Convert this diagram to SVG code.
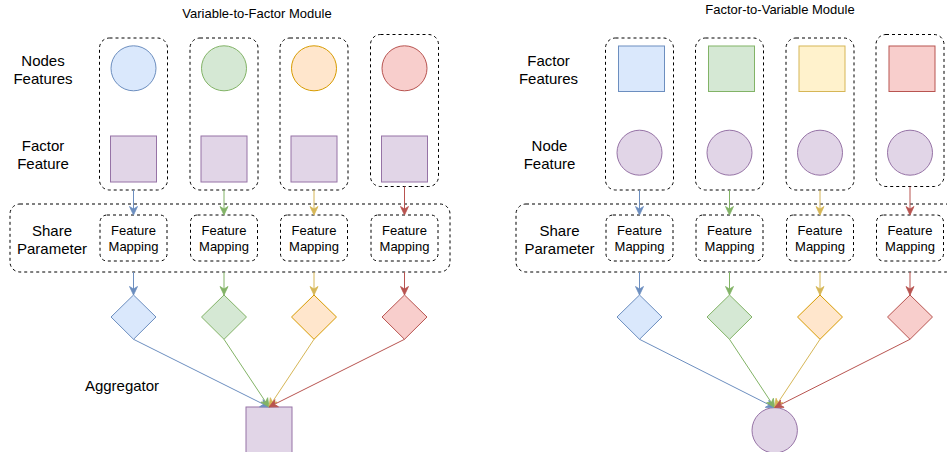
<svg xmlns="http://www.w3.org/2000/svg" width="947" height="452" viewBox="0 0 947 452">
<style>
text{font-family:"Liberation Sans",Arial,Helvetica,sans-serif;fill:#000;text-anchor:middle}
.t13{font-size:13px}
.t15{font-size:15px}
.grp{fill:none;stroke:#000;stroke-width:1;stroke-dasharray:3 3}
.fm{fill:#fff;stroke:#000;stroke-width:1;stroke-dasharray:3 3}
.blue{fill:#dae8fc;stroke:#6c8ebf}
.green{fill:#d5e8d4;stroke:#82b366}
.orange{fill:#ffe6cc;stroke:#d79b00}
.yellow{fill:#fff2cc;stroke:#d6b656}
.red{fill:#f8cecc;stroke:#b85450}
.purple{fill:#e1d5e7;stroke:#9673a6}
.e{fill:none;stroke-width:1}
.eb{stroke:#6c8ebf}.eg{stroke:#82b366}.ey{stroke:#d6b656}.er{stroke:#b85450}
</style>
<defs>
<marker id="ab" viewBox="0 0 10 10" refX="9.5" refY="5" markerWidth="10" markerHeight="10" markerUnits="userSpaceOnUse" orient="auto"><path d="M1,1 L9.5,5 L1,9 L3.5,5 Z" fill="#6c8ebf" stroke="#6c8ebf" stroke-width="0.8"/></marker>
<marker id="ag" viewBox="0 0 10 10" refX="9.5" refY="5" markerWidth="10" markerHeight="10" markerUnits="userSpaceOnUse" orient="auto"><path d="M1,1 L9.5,5 L1,9 L3.5,5 Z" fill="#82b366" stroke="#82b366" stroke-width="0.8"/></marker>
<marker id="ay" viewBox="0 0 10 10" refX="9.5" refY="5" markerWidth="10" markerHeight="10" markerUnits="userSpaceOnUse" orient="auto"><path d="M1,1 L9.5,5 L1,9 L3.5,5 Z" fill="#d6b656" stroke="#d6b656" stroke-width="0.8"/></marker>
<marker id="ar" viewBox="0 0 10 10" refX="9.5" refY="5" markerWidth="10" markerHeight="10" markerUnits="userSpaceOnUse" orient="auto"><path d="M1,1 L9.5,5 L1,9 L3.5,5 Z" fill="#b85450" stroke="#b85450" stroke-width="0.8"/></marker>
</defs>

<!-- ===== Left module: Variable-to-Factor ===== -->
<g id="title-left"><text class="t13" x="257" y="17.5">Variable-to-Factor Module</text></g>
<g id="label-nodes-features"><text class="t15" x="43" y="66">Nodes</text><text class="t15" x="43" y="84">Features</text></g>
<g id="label-factor-feature-left"><text class="t15" x="43" y="151">Factor</text><text class="t15" x="43" y="168.5">Feature</text></g>
<g id="label-aggregator"><text class="t15" x="122" y="391">Aggregator</text></g>

<g id="share-left">
<rect class="grp" x="10" y="204" width="440" height="68" rx="10"/>
<text class="t15" x="52" y="235.5">Share</text><text class="t15" x="52" y="253.5">Parameter</text>
</g>

<g id="L-col1">
<rect class="grp" x="99.5" y="38" width="68" height="152" rx="10"/>
<circle class="blue" cx="133.5" cy="68.3" r="22.5"/>
<rect class="purple" x="110.5" y="136" width="46" height="46"/>
</g>
<g id="L-col2">
<rect class="grp" x="190" y="38" width="68" height="152" rx="10"/>
<circle class="green" cx="224" cy="68.3" r="22.5"/>
<rect class="purple" x="201" y="136" width="46" height="46"/>
</g>
<g id="L-col3">
<rect class="grp" x="280" y="38" width="68" height="152" rx="10"/>
<circle class="orange" cx="314" cy="68.3" r="22.5"/>
<rect class="purple" x="291" y="136" width="46" height="46"/>
</g>
<g id="L-col4">
<rect class="grp" x="370.5" y="34.5" width="68" height="152" rx="10"/>
<circle class="red" cx="404.5" cy="68.3" r="22.5"/>
<rect class="purple" x="381.5" y="136" width="46" height="46"/>
</g>

<g id="L-fm1"><rect class="fm" x="100" y="215" width="67" height="46" rx="7"/><text class="t13" x="133.5" y="234.7">Feature</text><text class="t13" x="133.5" y="250.7">Mapping</text></g>
<g id="L-fm2"><rect class="fm" x="190.5" y="215" width="67" height="46" rx="7"/><text class="t13" x="224" y="234.7">Feature</text><text class="t13" x="224" y="250.7">Mapping</text></g>
<g id="L-fm3"><rect class="fm" x="280.5" y="215" width="67" height="46" rx="7"/><text class="t13" x="314" y="234.7">Feature</text><text class="t13" x="314" y="250.7">Mapping</text></g>
<g id="L-fm4"><rect class="fm" x="371" y="215" width="67" height="46" rx="7"/><text class="t13" x="404.5" y="234.7">Feature</text><text class="t13" x="404.5" y="250.7">Mapping</text></g>

<g id="L-d1"><polygon class="blue" points="133.5,295 156,317 133.5,339.3 111,317"/></g>
<g id="L-d2"><polygon class="green" points="224,295 246.5,317 224,339.3 201.5,317"/></g>
<g id="L-d3"><polygon class="orange" points="314,295 336.5,317 314,339.3 291.5,317"/></g>
<g id="L-d4"><polygon class="red" points="404.5,295 427,317 404.5,339.3 382,317"/></g>

<g id="L-agg"><rect class="purple" x="246" y="407" width="46" height="46"/></g>

<!-- ===== Right module: Factor-to-Variable ===== -->
<g id="title-right"><text class="t13" x="780" y="14">Factor-to-Variable Module</text></g>
<g id="label-factor-features"><text class="t15" x="548.5" y="66">Factor</text><text class="t15" x="548.5" y="84">Features</text></g>
<g id="label-node-feature"><text class="t15" x="549.5" y="151">Node</text><text class="t15" x="549.5" y="168.5">Feature</text></g>

<g id="share-right">
<rect class="grp" x="516" y="204" width="440" height="68" rx="10"/>
<text class="t15" x="559.5" y="235.5">Share</text><text class="t15" x="559.5" y="253.5">Parameter</text>
</g>

<g id="R-col1">
<rect class="grp" x="605.5" y="38" width="68" height="152" rx="10"/>
<rect class="blue" x="618.5" y="46" width="46" height="45.5"/>
<circle class="purple" cx="639.5" cy="152.7" r="22.5"/>
</g>
<g id="R-col2">
<rect class="grp" x="695.5" y="38" width="68" height="152" rx="10"/>
<rect class="green" x="708.5" y="46" width="46" height="45.5"/>
<circle class="purple" cx="729.5" cy="152.7" r="22.5"/>
</g>
<g id="R-col3">
<rect class="grp" x="786" y="38" width="68" height="152" rx="10"/>
<rect class="yellow" x="799" y="46" width="46" height="45.5"/>
<circle class="purple" cx="820" cy="152.7" r="22.5"/>
</g>
<g id="R-col4">
<rect class="grp" x="876" y="34.5" width="68" height="152" rx="10"/>
<rect class="red" x="889" y="46" width="46" height="45.5"/>
<circle class="purple" cx="910" cy="152.7" r="22.5"/>
</g>

<g id="R-fm1"><rect class="fm" x="606" y="215" width="67" height="46" rx="7"/><text class="t13" x="639.5" y="234.7">Feature</text><text class="t13" x="639.5" y="250.7">Mapping</text></g>
<g id="R-fm2"><rect class="fm" x="696" y="215" width="67" height="46" rx="7"/><text class="t13" x="729.5" y="234.7">Feature</text><text class="t13" x="729.5" y="250.7">Mapping</text></g>
<g id="R-fm3"><rect class="fm" x="786.5" y="215" width="67" height="46" rx="7"/><text class="t13" x="820" y="234.7">Feature</text><text class="t13" x="820" y="250.7">Mapping</text></g>
<g id="R-fm4"><rect class="fm" x="876.5" y="215" width="67" height="46" rx="7"/><text class="t13" x="910" y="234.7">Feature</text><text class="t13" x="910" y="250.7">Mapping</text></g>

<g id="R-d1"><polygon class="blue" points="639.5,295 662,317 639.5,339.3 617,317"/></g>
<g id="R-d2"><polygon class="green" points="729.5,295 752,317 729.5,339.3 707,317"/></g>
<g id="R-d3"><polygon class="orange" points="820,295 842.5,317 820,339.3 797.5,317"/></g>
<g id="R-d4"><polygon class="red" points="910,295 932.5,317 910,339.3 887.5,317"/></g>

<g id="R-agg"><circle class="purple" cx="774.7" cy="430.3" r="22.7"/></g>

<!-- ===== Connectors ===== -->
<g id="connectors">
<line class="e eb" x1="133.5" y1="190" x2="133.5" y2="215" marker-end="url(#ab)"/>
<line class="e eg" x1="224" y1="190" x2="224" y2="215" marker-end="url(#ag)"/>
<line class="e ey" x1="314" y1="190" x2="314" y2="215" marker-end="url(#ay)"/>
<line class="e er" x1="404.5" y1="186.5" x2="404.5" y2="215" marker-end="url(#ar)"/>
<line class="e eb" x1="133.5" y1="272" x2="133.5" y2="295" marker-end="url(#ab)"/>
<line class="e eg" x1="224" y1="272" x2="224" y2="295" marker-end="url(#ag)"/>
<line class="e ey" x1="314" y1="272" x2="314" y2="295" marker-end="url(#ay)"/>
<line class="e er" x1="404.5" y1="272" x2="404.5" y2="295" marker-end="url(#ar)"/>
<line class="e eb" x1="133.5" y1="339.3" x2="269" y2="407" marker-end="url(#ab)"/>
<line class="e eg" x1="224" y1="339.3" x2="269" y2="407" marker-end="url(#ag)"/>
<line class="e ey" x1="314" y1="339.3" x2="269" y2="407" marker-end="url(#ay)"/>
<line class="e er" x1="404.5" y1="339.3" x2="269" y2="407" marker-end="url(#ar)"/>

<line class="e eb" x1="639.5" y1="190" x2="639.5" y2="215" marker-end="url(#ab)"/>
<line class="e eg" x1="729.5" y1="190" x2="729.5" y2="215" marker-end="url(#ag)"/>
<line class="e ey" x1="820" y1="190" x2="820" y2="215" marker-end="url(#ay)"/>
<line class="e er" x1="910" y1="186.5" x2="910" y2="215" marker-end="url(#ar)"/>
<line class="e eb" x1="639.5" y1="272" x2="639.5" y2="295" marker-end="url(#ab)"/>
<line class="e eg" x1="729.5" y1="272" x2="729.5" y2="295" marker-end="url(#ag)"/>
<line class="e ey" x1="820" y1="272" x2="820" y2="295" marker-end="url(#ay)"/>
<line class="e er" x1="910" y1="272" x2="910" y2="295" marker-end="url(#ar)"/>
<line class="e eb" x1="639.5" y1="339.3" x2="774.7" y2="407.6" marker-end="url(#ab)"/>
<line class="e eg" x1="729.5" y1="339.3" x2="774.7" y2="407.6" marker-end="url(#ag)"/>
<line class="e ey" x1="820" y1="339.3" x2="774.7" y2="407.6" marker-end="url(#ay)"/>
<line class="e er" x1="910" y1="339.3" x2="774.7" y2="407.6" marker-end="url(#ar)"/>
</g>
</svg>
